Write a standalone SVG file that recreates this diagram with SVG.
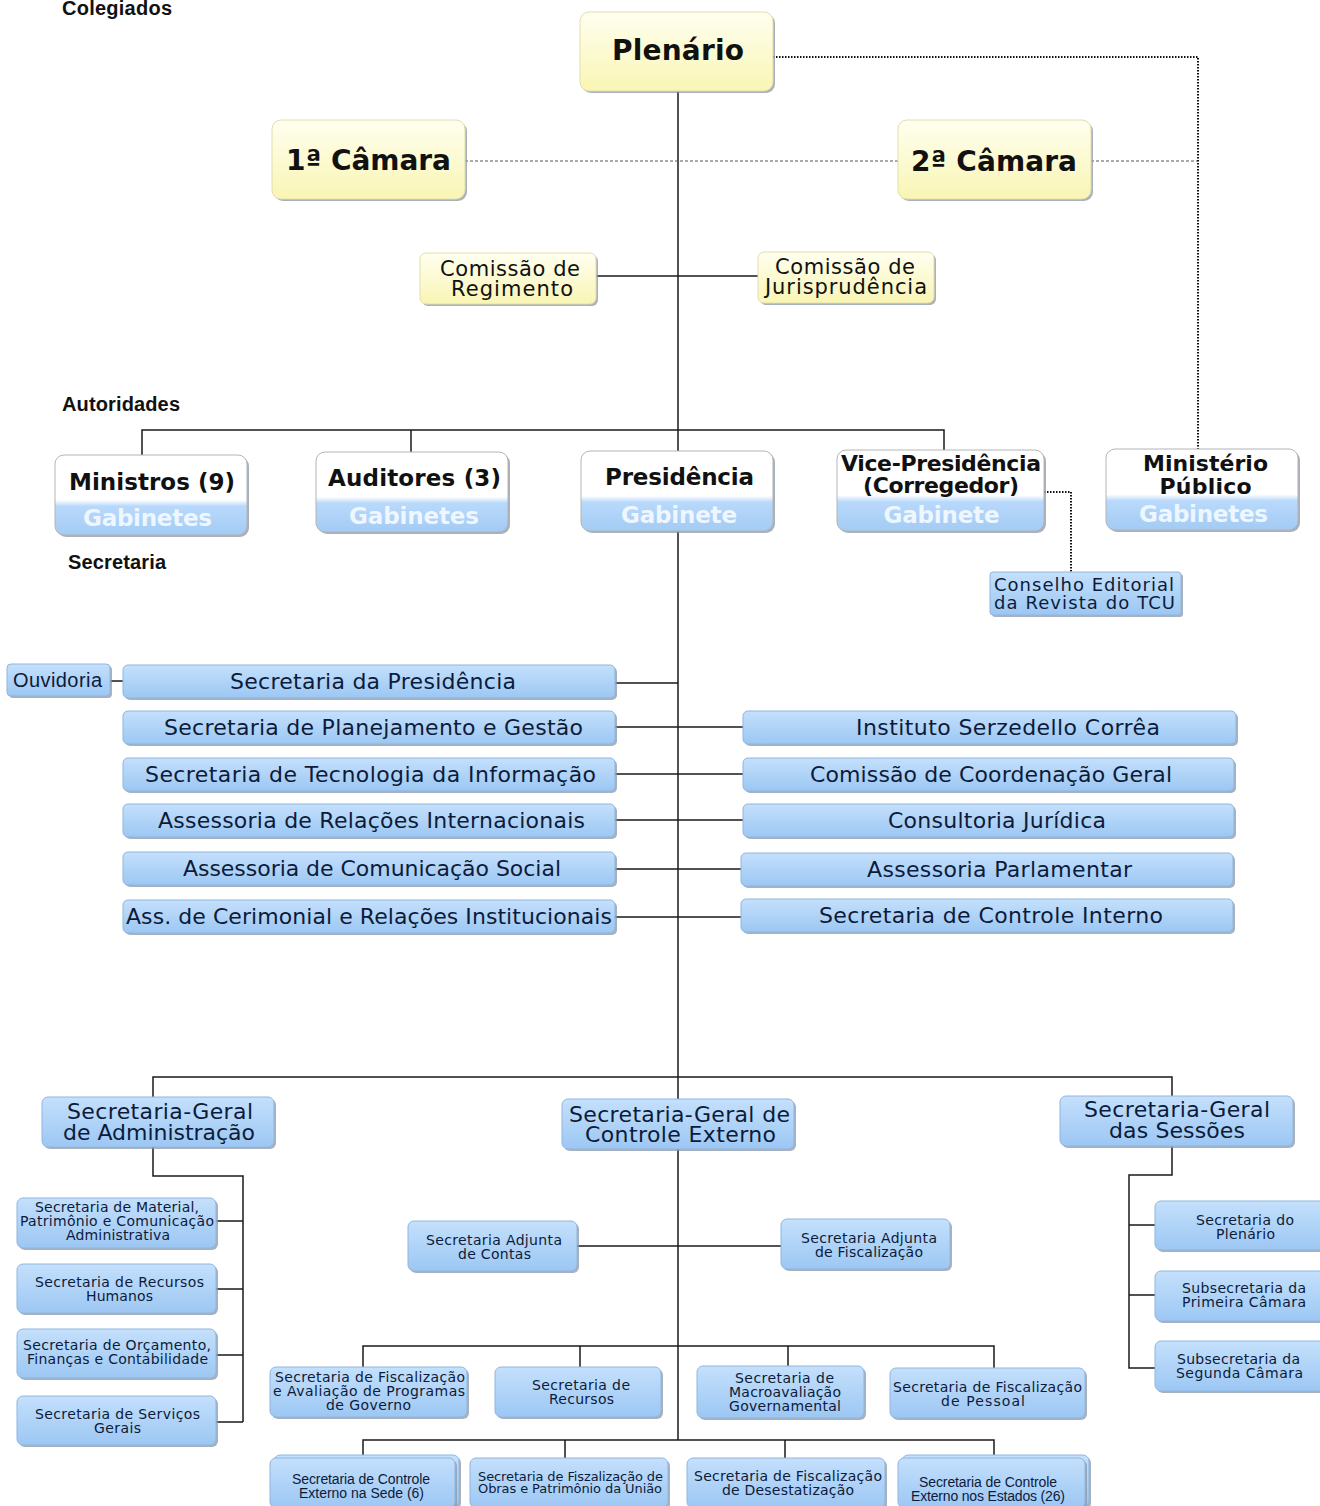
<svg xmlns="http://www.w3.org/2000/svg" width="1320" height="1506" viewBox="0 0 1320 1506">
<defs>
<linearGradient id="gY" x1="0" y1="0" x2="0" y2="1">
<stop offset="0" stop-color="#fffff0"/>
<stop offset="1" stop-color="#f9f5b4"/>
</linearGradient>
<linearGradient id="gB" x1="0" y1="0" x2="0" y2="1">
<stop offset="0" stop-color="#c4e0fc"/>
<stop offset="1" stop-color="#9cc7f3"/>
</linearGradient>
<linearGradient id="gA" x1="0" y1="0" x2="0" y2="1">
<stop offset="0" stop-color="#ffffff"/>
<stop offset="0.56" stop-color="#ffffff"/>
<stop offset="0.64" stop-color="#b9d9fb"/>
<stop offset="1" stop-color="#a3cbf4"/>
</linearGradient>
<style>
.sh{fill:#8c97a6;opacity:0.75}
.yel{fill:url(#gY);stroke:#e2deaa;stroke-width:1}
.blu{fill:url(#gB);stroke:#8fb6e0;stroke-width:1}
.aut{fill:url(#gA);stroke:#b4b4b4;stroke-width:1}
.ln{fill:none;stroke:#1a1a1a;stroke-width:1.5}
.dash{fill:none;stroke:#555;stroke-width:1;stroke-dasharray:3 2}
.dot{fill:none;stroke:#111;stroke-width:2;stroke-dasharray:1.5 1.5}
.hd{font-family:"Liberation Sans",Arial,sans-serif;font-weight:bold;font-size:20px;fill:#111}
.yb{font-family:"DejaVu Sans",Verdana,sans-serif;font-weight:bold;font-size:28px;fill:#111;text-anchor:middle}
.yn{font-family:"DejaVu Sans",Verdana,sans-serif;font-size:21px;fill:#111;text-anchor:middle}
.ab{font-family:"DejaVu Sans",Verdana,sans-serif;font-weight:bold;font-size:23px;fill:#111;text-anchor:middle}
.ab2{font-family:"DejaVu Sans",Verdana,sans-serif;font-weight:bold;font-size:22px;fill:#111;text-anchor:middle}
.gab{font-family:"DejaVu Sans",Verdana,sans-serif;font-weight:bold;font-size:23px;fill:#eef6ff;text-anchor:middle}
.bt{font-family:"DejaVu Sans",Verdana,sans-serif;font-size:22px;fill:#0d1b3a;text-anchor:middle}
.bm{font-family:"DejaVu Sans",Verdana,sans-serif;font-size:18px;fill:#0d1b3a;text-anchor:middle}
.bs{font-family:"DejaVu Sans",Verdana,sans-serif;font-size:14px;fill:#0d1b3a;text-anchor:middle}
.bx{font-family:"DejaVu Sans",Verdana,sans-serif;font-size:13px;fill:#0d1b3a;text-anchor:middle}
.bn{font-family:"Liberation Sans",Tahoma,sans-serif;font-size:14px;fill:#0d1b3a;text-anchor:middle}
.bo{font-family:"Liberation Sans",Tahoma,sans-serif;font-size:20px;fill:#0d1b3a;text-anchor:middle}
</style>
</defs>
<rect width="1320" height="1506" fill="#ffffff"/>

<g id="labels">
<text class="hd" x="62" y="15" textLength="110">Colegiados</text>
<text class="hd" x="62" y="411" textLength="118">Autoridades</text>
<text class="hd" x="68" y="569" textLength="98">Secretaria</text>
</g>

<g id="connectors">
<path class="ln" d="M678 91V451M678 531V1099M678 1149V1440"/>
<path class="ln" d="M596 276H758"/>
<path class="ln" d="M142 455V430H944V450M411 430V452"/>
<path class="ln" d="M110 681H123M615 683H678M615 727H743M615 774H743M615 820H743M615 869H741M615 917H741"/>
<path class="ln" d="M153 1097V1077H1172V1096"/>
<path class="ln" d="M153 1147V1176H243V1422M216 1221H243M216 1289H243M216 1355H243M216 1422H243"/>
<path class="ln" d="M577 1246H781"/>
<path class="ln" d="M363 1367V1346H994V1368M580 1346V1367M788 1346V1366"/>
<path class="ln" d="M363 1458V1440H994V1458M565 1440V1458M785 1440V1458"/>
<path class="ln" d="M1172 1146V1175H1129V1368H1155M1129 1225H1155M1129 1295H1155"/>
<path class="dash" d="M465 161H898M1091 161H1198"/>
<path class="dot" d="M773 57H1198V449"/>
<path class="dot" d="M1044 492H1071V572"/>
</g>

<g id="plenario">
<rect class="sh" x="582" y="14" width="193" height="79" rx="9"/>
<rect class="yel" x="580" y="12" width="193" height="79" rx="9"/>
<text class="yb" x="678" y="60" textLength="132">Plenário</text>
</g>
<g id="camara1">
<rect class="sh" x="274" y="122" width="193" height="79" rx="9"/>
<rect class="yel" x="272" y="120" width="193" height="79" rx="9"/>
<text class="yb" x="368.5" y="170" textLength="165">1ª Câmara</text>
</g>
<g id="camara2">
<rect class="sh" x="900" y="122" width="193" height="79" rx="9"/>
<rect class="yel" x="898" y="120" width="193" height="79" rx="9"/>
<text class="yb" x="994" y="171" textLength="166">2ª Câmara</text>
</g>
<g id="comissao-regimento">
<rect class="sh" x="422" y="255" width="176" height="51" rx="6"/>
<rect class="yel" x="420" y="253" width="176" height="51" rx="6"/>
<text class="yn" x="510" y="276" textLength="140">Comissão de</text>
<text class="yn" x="512" y="296" textLength="122">Regimento</text>
</g>
<g id="comissao-jurisprudencia">
<rect class="sh" x="760" y="254" width="176" height="51" rx="6"/>
<rect class="yel" x="758" y="252" width="176" height="51" rx="6"/>
<text class="yn" x="845" y="274" textLength="140">Comissão de</text>
<text class="yn" x="846" y="294" textLength="162">Jurisprudência</text>
</g>

<g id="ministros">
<rect class="sh" x="57" y="457" width="192" height="80" rx="9"/>
<rect class="aut" x="55" y="455" width="192" height="80" rx="9"/>
<text class="ab" x="152" y="490" textLength="166">Ministros (9)</text>
<text class="gab" x="147.5" y="526" textLength="129">Gabinetes</text>
</g>
<g id="auditores">
<rect class="sh" x="318" y="454" width="192" height="80" rx="9"/>
<rect class="aut" x="316" y="452" width="192" height="80" rx="9"/>
<text class="ab" x="414.5" y="486" textLength="173">Auditores (3)</text>
<text class="gab" x="414" y="524" textLength="130">Gabinetes</text>
</g>
<g id="presidencia">
<rect class="sh" x="583" y="453" width="192" height="80" rx="9"/>
<rect class="aut" x="581" y="451" width="192" height="80" rx="9"/>
<text class="ab" x="679.5" y="485" textLength="149">Presidência</text>
<text class="gab" x="679" y="523" textLength="116">Gabinete</text>
</g>
<g id="vice-presidencia">
<rect class="sh" x="839" y="452" width="207" height="81" rx="9"/>
<rect class="aut" x="837" y="450" width="207" height="81" rx="9"/>
<text class="ab2" x="941" y="471" textLength="200">Vice-Presidência</text>
<text class="ab2" x="941" y="493" textLength="156">(Corregedor)</text>
<text class="gab" x="941.5" y="523" textLength="116">Gabinete</text>
</g>
<g id="ministerio-publico">
<rect class="sh" x="1108" y="451" width="192" height="81" rx="9"/>
<rect class="aut" x="1106" y="449" width="192" height="81" rx="9"/>
<text class="ab2" x="1205.5" y="471" textLength="125">Ministério</text>
<text class="ab2" x="1205.5" y="494" textLength="92">Público</text>
<text class="gab" x="1203.5" y="522" textLength="129">Gabinetes</text>
</g>
<g id="conselho-editorial">
<rect class="sh" x="992" y="574" width="191" height="43" rx="3"/>
<rect class="blu" x="990" y="572" width="191" height="43" rx="3"/>
<text class="bm" x="1084" y="591" textLength="180">Conselho Editorial</text>
<text class="bm" x="1084.5" y="609" textLength="181">da Revista do TCU</text>
</g>

<g id="ouvidoria">
<rect class="sh" x="9" y="666" width="103" height="32" rx="4"/>
<rect class="blu" x="7" y="664" width="103" height="32" rx="4"/>
<text class="bo" x="57.5" y="687" textLength="89">Ouvidoria</text>
</g>
<g id="sec-presidencia">
<rect class="sh" x="125" y="667" width="492" height="33" rx="5"/>
<rect class="blu" x="123" y="665" width="492" height="33" rx="5"/>
<text class="bt" x="373" y="689" textLength="286">Secretaria da Presidência</text>
</g>
<g id="sec-planejamento">
<rect class="sh" x="125" y="713" width="492" height="33" rx="5"/>
<rect class="blu" x="123" y="711" width="492" height="33" rx="5"/>
<text class="bt" x="373.5" y="735" textLength="419">Secretaria de Planejamento e Gestão</text>
</g>
<g id="sec-tecnologia">
<rect class="sh" x="125" y="760" width="492" height="33" rx="5"/>
<rect class="blu" x="123" y="758" width="492" height="33" rx="5"/>
<text class="bt" x="370.5" y="782" textLength="451">Secretaria de Tecnologia da Informação</text>
</g>
<g id="ass-relacoes-internacionais">
<rect class="sh" x="125" y="806" width="492" height="33" rx="5"/>
<rect class="blu" x="123" y="804" width="492" height="33" rx="5"/>
<text class="bt" x="371.5" y="828" textLength="427">Assessoria de Relações Internacionais</text>
</g>
<g id="ass-comunicacao">
<rect class="sh" x="125" y="854" width="492" height="33" rx="5"/>
<rect class="blu" x="123" y="852" width="492" height="33" rx="5"/>
<text class="bt" x="372" y="876" textLength="378">Assessoria de Comunicação Social</text>
</g>
<g id="ass-cerimonial">
<rect class="sh" x="125" y="902" width="492" height="33" rx="5"/>
<rect class="blu" x="123" y="900" width="492" height="33" rx="5"/>
<text class="bt" x="369" y="924" textLength="486">Ass. de Cerimonial e Relações Institucionais</text>
</g>

<g id="instituto">
<rect class="sh" x="745" y="713" width="493" height="33" rx="5"/>
<rect class="blu" x="743" y="711" width="493" height="33" rx="5"/>
<text class="bt" x="1008" y="735" textLength="304">Instituto Serzedello Corrêa</text>
</g>
<g id="comissao-coordenacao">
<rect class="sh" x="745" y="760" width="491" height="33" rx="5"/>
<rect class="blu" x="743" y="758" width="491" height="33" rx="5"/>
<text class="bt" x="991" y="782" textLength="362">Comissão de Coordenação Geral</text>
</g>
<g id="consultoria">
<rect class="sh" x="745" y="806" width="491" height="33" rx="5"/>
<rect class="blu" x="743" y="804" width="491" height="33" rx="5"/>
<text class="bt" x="997" y="828" textLength="218">Consultoria Jurídica</text>
</g>
<g id="ass-parlamentar">
<rect class="sh" x="743" y="855" width="492" height="33" rx="5"/>
<rect class="blu" x="741" y="853" width="492" height="33" rx="5"/>
<text class="bt" x="999.5" y="877" textLength="265">Assessoria Parlamentar</text>
</g>
<g id="controle-interno">
<rect class="sh" x="743" y="901" width="492" height="33" rx="5"/>
<rect class="blu" x="741" y="899" width="492" height="33" rx="5"/>
<text class="bt" x="991" y="923" textLength="344">Secretaria de Controle Interno</text>
</g>

<g id="sg-administracao">
<rect class="sh" x="44" y="1099" width="232" height="50" rx="6"/>
<rect class="blu" x="42" y="1097" width="232" height="50" rx="6"/>
<text class="bt" x="160" y="1119" textLength="186">Secretaria-Geral</text>
<text class="bt" x="159" y="1140" textLength="192">de Administração</text>
</g>
<g id="sg-controle-externo">
<rect class="sh" x="564" y="1101" width="232" height="50" rx="6"/>
<rect class="blu" x="562" y="1099" width="232" height="50" rx="6"/>
<text class="bt" x="679.5" y="1122" textLength="221">Secretaria-Geral de</text>
<text class="bt" x="680.5" y="1142" textLength="191">Controle Externo</text>
</g>
<g id="sg-sessoes">
<rect class="sh" x="1062" y="1098" width="233" height="50" rx="6"/>
<rect class="blu" x="1060" y="1096" width="233" height="50" rx="6"/>
<text class="bt" x="1177" y="1117" textLength="186">Secretaria-Geral</text>
<text class="bt" x="1177" y="1138" textLength="136">das Sessões</text>
</g>

<g id="sec-material">
<rect class="sh" x="19" y="1200" width="199" height="50" rx="6"/>
<rect class="blu" x="17" y="1198" width="199" height="50" rx="6"/>
<text class="bs" x="117" y="1212" textLength="164">Secretaria de Material,</text>
<text class="bs" x="117" y="1226" textLength="194">Patrimônio e Comunicação</text>
<text class="bs" x="118" y="1240" textLength="104">Administrativa</text>
</g>
<g id="sec-rh">
<rect class="sh" x="19" y="1266" width="199" height="49" rx="6"/>
<rect class="blu" x="17" y="1264" width="199" height="49" rx="6"/>
<text class="bs" x="119.5" y="1287" textLength="169">Secretaria de Recursos</text>
<text class="bs" x="119.5" y="1301" textLength="67">Humanos</text>
</g>
<g id="sec-orcamento">
<rect class="sh" x="19" y="1331" width="199" height="49" rx="6"/>
<rect class="blu" x="17" y="1329" width="199" height="49" rx="6"/>
<text class="bs" x="117" y="1350" textLength="188">Secretaria de Orçamento,</text>
<text class="bs" x="117.5" y="1364" textLength="181">Finanças e Contabilidade</text>
</g>
<g id="sec-servicos">
<rect class="sh" x="19" y="1398" width="199" height="49" rx="6"/>
<rect class="blu" x="17" y="1396" width="199" height="49" rx="6"/>
<text class="bs" x="117.5" y="1419" textLength="165">Secretaria de Serviços</text>
<text class="bs" x="117.5" y="1433" textLength="47">Gerais</text>
</g>

<g id="sa-contas">
<rect class="sh" x="410" y="1223" width="169" height="50" rx="6"/>
<rect class="blu" x="408" y="1221" width="169" height="50" rx="6"/>
<text class="bs" x="494" y="1245" textLength="136">Secretaria Adjunta</text>
<text class="bs" x="494.5" y="1259" textLength="73">de Contas</text>
</g>
<g id="sa-fiscalizacao">
<rect class="sh" x="783" y="1221" width="169" height="50" rx="6"/>
<rect class="blu" x="781" y="1219" width="169" height="50" rx="6"/>
<text class="bs" x="869" y="1243" textLength="136">Secretaria Adjunta</text>
<text class="bs" x="869" y="1257" textLength="108">de Fiscalização</text>
</g>

<g id="sec-fisc-programas">
<rect class="sh" x="272" y="1369" width="197" height="50" rx="6"/>
<rect class="blu" x="270" y="1367" width="197" height="50" rx="6"/>
<text class="bs" x="370" y="1382" textLength="190">Secretaria de Fiscalização</text>
<text class="bs" x="369" y="1396" textLength="192">e Avaliação de Programas</text>
<text class="bs" x="368.5" y="1410" textLength="85">de Governo</text>
</g>
<g id="sec-recursos">
<rect class="sh" x="497" y="1369" width="166" height="50" rx="6"/>
<rect class="blu" x="495" y="1367" width="166" height="50" rx="6"/>
<text class="bs" x="581" y="1390" textLength="98">Secretaria de</text>
<text class="bs" x="581.5" y="1404" textLength="65">Recursos</text>
</g>
<g id="sec-macroavaliacao">
<rect class="sh" x="699" y="1368" width="167" height="52" rx="6"/>
<rect class="blu" x="697" y="1366" width="167" height="52" rx="6"/>
<text class="bs" x="784.5" y="1383" textLength="99">Secretaria de</text>
<text class="bs" x="785" y="1397" textLength="112">Macroavaliação</text>
<text class="bs" x="785" y="1411" textLength="112">Governamental</text>
</g>
<g id="sec-fisc-pessoal">
<rect class="sh" x="892" y="1370" width="195" height="50" rx="6"/>
<rect class="blu" x="890" y="1368" width="195" height="50" rx="6"/>
<text class="bs" x="987.5" y="1392" textLength="189">Secretaria de Fiscalização</text>
<text class="bs" x="983" y="1406" textLength="84">de Pessoal</text>
</g>

<g id="secex-sede">
<rect class="sh" x="276" y="1457" width="185" height="52" rx="6"/>
<rect class="blu" x="274" y="1455" width="185" height="52" rx="6"/>
<rect class="sh" x="272" y="1460" width="185" height="50" rx="6"/>
<rect class="blu" x="270" y="1458" width="185" height="50" rx="6"/>
<text class="bn" x="361" y="1484" textLength="138">Secretaria de Controle</text>
<text class="bn" x="361.5" y="1498" textLength="125">Externo na Sede (6)</text>
</g>
<g id="sec-fisc-obras">
<rect class="sh" x="472" y="1460" width="198" height="50" rx="6"/>
<rect class="blu" x="470" y="1458" width="198" height="50" rx="6"/>
<text class="bx" x="570.5" y="1481" textLength="185">Secretaria de Fiszalização de</text>
<text class="bx" x="570" y="1493" textLength="184">Obras e Patrimônio da União</text>
</g>
<g id="sec-fisc-desestatizacao">
<rect class="sh" x="689" y="1460" width="198" height="50" rx="6"/>
<rect class="blu" x="687" y="1458" width="198" height="50" rx="6"/>
<text class="bs" x="788" y="1481" textLength="188">Secretaria de Fiscalização</text>
<text class="bs" x="788" y="1495" textLength="132">de Desestatização</text>
</g>
<g id="secex-estados">
<rect class="sh" x="904" y="1457" width="187" height="52" rx="6"/>
<rect class="blu" x="902" y="1455" width="187" height="52" rx="6"/>
<rect class="sh" x="900" y="1460" width="187" height="50" rx="6"/>
<rect class="blu" x="898" y="1458" width="187" height="50" rx="6"/>
<text class="bn" x="988" y="1487" textLength="138">Secretaria de Controle</text>
<text class="bn" x="988" y="1501" textLength="154">Externo nos Estados (26)</text>
</g>

<g id="sec-plenario">
<rect class="sh" x="1157" y="1203" width="170" height="49" rx="6"/>
<rect class="blu" x="1155" y="1201" width="170" height="49" rx="6"/>
<text class="bs" x="1245" y="1225" textLength="98">Secretaria do</text>
<text class="bs" x="1245.5" y="1239" textLength="59">Plenário</text>
</g>
<g id="subsec-primeira-camara">
<rect class="sh" x="1157" y="1273" width="170" height="50" rx="6"/>
<rect class="blu" x="1155" y="1271" width="170" height="50" rx="6"/>
<text class="bs" x="1244" y="1293" textLength="124">Subsecretaria da</text>
<text class="bs" x="1244" y="1307" textLength="124">Primeira Câmara</text>
</g>
<g id="subsec-segunda-camara">
<rect class="sh" x="1157" y="1343" width="170" height="50" rx="6"/>
<rect class="blu" x="1155" y="1341" width="170" height="50" rx="6"/>
<text class="bs" x="1238.5" y="1364" textLength="123">Subsecretaria da</text>
<text class="bs" x="1239.5" y="1378" textLength="127">Segunda Câmara</text>
</g>
</svg>
